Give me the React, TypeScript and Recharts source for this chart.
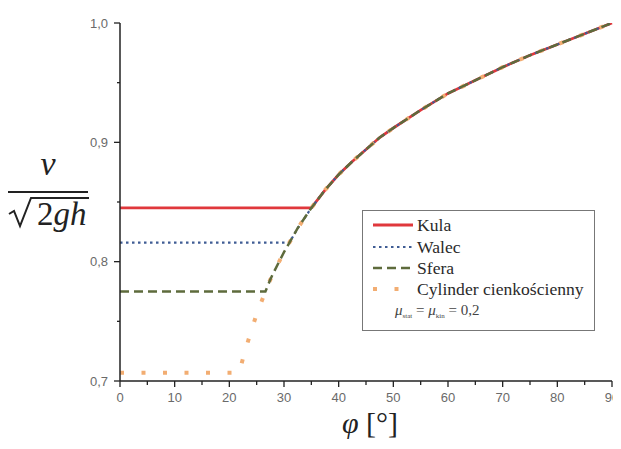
import React from 'react';
import { LineChart, Line, XAxis, YAxis, Legend, Label } from 'recharts';

// Values
const seriesNames = ['Kula', 'Walec', 'Sfera', 'Cylinder cienkościenny'];
const rollingValues = [0.845, 0.816, 0.775, 0.707];
const thresholdAngles = [35, 31, 26.6, 21.8];
const slipAngles = [21.8, 22.5, 23, 24, 25, 26.6, 27.5, 28, 30, 31, 32.5, 35, 37.5, 40, 42.5, 45, 47.5, 50, 55, 60, 65, 70, 75, 80, 85, 90];
const slipValues = [0.707, 0.719, 0.727, 0.742, 0.756, 0.775, 0.785, 0.790, 0.808, 0.816, 0.828, 0.845, 0.860, 0.873, 0.884, 0.894, 0.904, 0.912, 0.927, 0.941, 0.952, 0.963, 0.973, 0.982, 0.991, 1.0];
const xTicks = [0, 5, 10, 15, 20, 25, 30, 35, 40, 45, 50, 55, 60, 65, 70, 75, 80, 85, 90];
const yTicks = [0.7, 0.75, 0.8, 0.85, 0.9, 0.95, 1.0];

const SERIF = '"Liberation Serif", "Times New Roman", serif';
const SANS = '"Liberation Sans", Arial, sans-serif';

const seriesStyles = [
  { color: '#e0383c', width: 2.8, dash: undefined as string | undefined },
  { color: '#3f5c94', width: 2.2, dash: '2.5 3.5' },
  { color: '#5e6b3c', width: 2.5, dash: '9 5' },
  { color: '#f2ad72', width: 4, dash: '4 17.5' },
];

const buildSeries = (i: number) => {
  const pts = [
    { phi: 0, v: rollingValues[i] },
    { phi: thresholdAngles[i], v: rollingValues[i] },
  ];
  slipAngles.forEach((a, k) => {
    if (a > thresholdAngles[i]) pts.push({ phi: a, v: slipValues[k] });
  });
  return pts;
};

const allSeries = seriesNames.map((_, i) => buildSeries(i));

const XTick = (props: any) => {
  const { x, y, payload } = props;
  const major = payload.value % 10 === 0;
  return (
    <g>
      <line x1={x} x2={x} y1={y} y2={y + (major ? 6 : 4)} stroke="#222" strokeWidth={1.3} />
      {major && (
        <text x={x} y={y + 21} textAnchor="middle" style={{ fontFamily: SANS }} fontSize={13} fill="#6a6a6a">
          {payload.value}
        </text>
      )}
    </g>
  );
};

const YTick = (props: any) => {
  const { x, y, payload } = props;
  const major = Math.round(payload.value * 100) % 10 === 0;
  return (
    <g>
      <line x1={x - (major ? 6 : 3)} x2={x} y1={y} y2={y} stroke="#222" strokeWidth={1.3} />
      {major && (
        <text x={x - 12} y={y + 4.5} textAnchor="end" style={{ fontFamily: SANS }} fontSize={13} fill="#6a6a6a">
          {payload.value.toFixed(1).replace('.', ',')}
        </text>
      )}
    </g>
  );
};

const YTitle = () => (
  <g fill="#222" stroke="none">
    <text x={40} y={167} textAnchor="middle" style={{ fontFamily: SERIF, fontStyle: 'italic' }} fontSize={34}>v</text>
    <line x1={0} x2={80} y1={184} y2={184} stroke="#222" strokeWidth={2.2} />
    <path d="M1 206 L6 203 L12 218 L23 190 L81 190" fill="none" stroke="#222" strokeWidth={2} />
    <text x={29} y={217} style={{ fontFamily: SERIF }} fontSize={33}>
      2<tspan fontStyle="italic">gh</tspan>
    </text>
  </g>
);

const XTitle = () => (
  <text x={362} y={425} textAnchor="middle" style={{ fontFamily: SERIF }} fontSize={30} fill="#222">
    <tspan fontStyle="italic">φ</tspan> [°]
  </text>
);

const LegendBox = (props: any) => {
  const payload = props.payload || [];
  const rows = [15, 37, 58, 79];
  return (
    <svg width={234} height={122} style={{ display: 'block' }}>
      <rect x={0.5} y={0.5} width={232} height={120} fill="#fff" stroke="#777" strokeWidth={1} />
      {seriesNames.map((name, i) => {
        const st = seriesStyles[i];
        const entry = payload.find((p: any) => p.value === name);
        const color = entry ? entry.color : st.color;
        return (
          <g key={name}>
            <line x1={11} x2={51} y1={rows[i]} y2={rows[i]} stroke={color} strokeWidth={st.width} strokeDasharray={st.dash} />
            <text x={55} y={rows[i] + 5.5} style={{ fontFamily: SERIF }} fontSize={17.6} fill="#2a2a2a">{name}</text>
          </g>
        );
      })}
      <text x={33} y={105} style={{ fontFamily: SERIF }} fontSize={15} fill="#444">
        <tspan fontStyle="italic">μ</tspan>
        <tspan fontSize={7} dy={3}>stat</tspan>
        <tspan dy={-3}> = </tspan>
        <tspan fontStyle="italic">μ</tspan>
        <tspan fontSize={7} dy={3}>kin</tspan>
        <tspan dy={-3}> = 0,2</tspan>
      </text>
    </svg>
  );
};

export default function App() {
  return (
    <div style={{ width: 613, height: 441 }}>
      <LineChart width={613} height={441} margin={{ top: 15, right: 9, left: 62, bottom: 38 }}>
        <XAxis
          type="number"
          dataKey="phi"
          domain={[0, 90]}
          ticks={xTicks}
          interval={0}
          tickSize={0}
          tickMargin={0}
          tick={<XTick />}
          axisLine={{ stroke: '#222', strokeWidth: 1.5 }}
          height={30}
        >
          <Label content={<XTitle />} />
        </XAxis>
        <YAxis
          type="number"
          dataKey="v"
          domain={[0.7, 1.0]}
          allowDataOverflow
          ticks={yTicks}
          interval={0}
          tickSize={0}
          tickMargin={0}
          tick={<YTick />}
          axisLine={{ stroke: '#222', strokeWidth: 1.5 }}
          width={50}
        >
          <Label content={<YTitle />} />
        </YAxis>
        {[0, 1, 3, 2].map((i) => (
          <Line
            key={seriesNames[i]}
            data={allSeries[i]}
            dataKey="v"
            name={seriesNames[i]}
            type="linear"
            stroke={seriesStyles[i].color}
            strokeWidth={seriesStyles[i].width}
            strokeDasharray={seriesStyles[i].dash}
            dot={false}
            activeDot={false}
            isAnimationActive={false}
          />
        ))}
        <Legend
          layout="vertical"
          align="center"
          verticalAlign="middle"
          content={<LegendBox />}
          wrapperStyle={{ position: 'absolute', left: 354, top: 202, width: 234, height: 122 }}
        />
      </LineChart>
    </div>
  );
}
